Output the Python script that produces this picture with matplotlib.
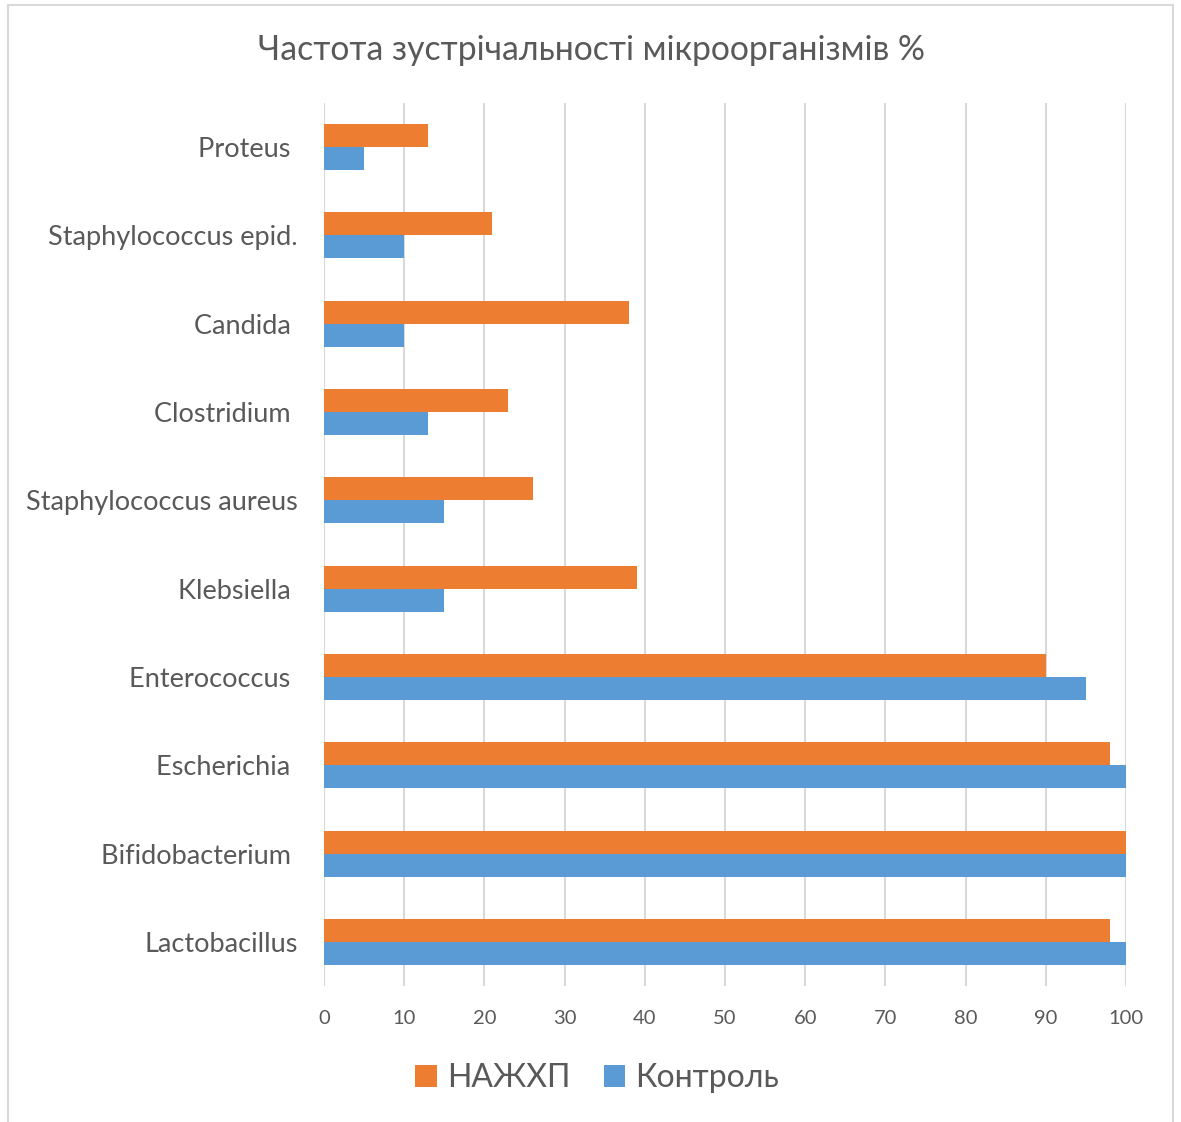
import matplotlib
matplotlib.use("Agg")
import matplotlib.pyplot as plt
from matplotlib.patches import Rectangle, Patch
import numpy as np

plt.rcParams['font.family'] = ['Lato', 'Open Sans', 'DejaVu Sans']

# Categories from bottom to top
categories = ["Lactobacillus", "Bifidobacterium ", "Escherichia ", "Enterococcus ",
              "Klebsiella ", "Staphylococcus aureus", "Clostridium ", "Candida ",
              "Staphylococcus epid.", "Proteus "]
nazhkhp = [98, 100, 98, 90, 39, 26, 23, 38, 21, 13]
kontrol = [100, 100, 100, 95, 15, 15, 13, 10, 10, 5]
series_names = ["НАЖХП", "Контроль"]
x_ticks = list(range(0, 101, 10))
title = "Частота зустрічальності мікроорганізмів %"

ORANGE = "#ED7D31"
BLUE = "#5B9BD5"
GRID = "#D9D9D9"
TEXT = "#595959"

W, H = 1181, 1122
fig = plt.figure(figsize=(W / 100, H / 100), dpi=100)
fig.patch.set_facecolor("white")

# Chart frame
fig.add_artist(Rectangle((8 / W, -0.01), (1173 - 8) / W, 1 - 5 / H + 0.01,
                         transform=fig.transFigure, fill=False,
                         edgecolor=GRID, linewidth=1.5))

ax = fig.add_axes([324 / W, 1 - 986 / H, (1126 - 324) / W, (986 - 103) / H])

y = np.arange(len(categories))
h = 0.26
ax.barh(y + h / 2, nazhkhp, height=h, color=ORANGE, label=series_names[0], zorder=3)
ax.barh(y - h / 2, kontrol, height=h, color=BLUE, label=series_names[1], zorder=3)

ax.set_xlim(0, 100)
ax.set_ylim(-0.5, len(categories) - 0.5)
ax.set_xticks(x_ticks)
ax.set_xticklabels([str(t) for t in x_ticks], fontsize=14.5, color=TEXT)
ax.set_yticks(y)
ax.set_yticklabels(categories, fontsize=19.5, color=TEXT)
ax.tick_params(axis='x', length=0, pad=17)
ax.tick_params(axis='y', length=0, pad=19)
ax.grid(axis='x', color=GRID, linewidth=1.5, zorder=0)
for s in ax.spines.values():
    s.set_visible(False)

fig.text(591 / W, 1 - 50 / H, title, ha='center', va='center',
         fontsize=24.3, color=TEXT)

handles = [Patch(facecolor=ORANGE, label=series_names[0]),
           Patch(facecolor=BLUE, label=series_names[1])]
leg = fig.legend(handles=handles, loc='center', bbox_to_anchor=(597 / W, 1 - 1078 / H),
                 ncol=2, frameon=False, fontsize=23, handlelength=0.68,
                 handleheight=0.68, handletextpad=0.3, columnspacing=1.05)
for t in leg.get_texts():
    t.set_color(TEXT)

fig.savefig("out.png", dpi=100, facecolor="white")
